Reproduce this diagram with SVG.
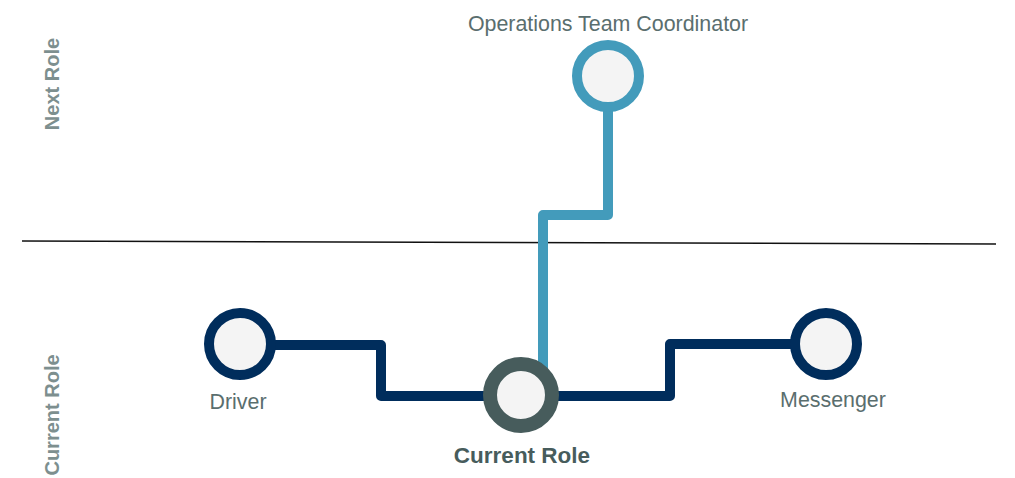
<svg xmlns="http://www.w3.org/2000/svg" width="1015" height="478" viewBox="0 0 1015 478">
<style>
.lbl{font-family:"Liberation Sans",Arial,sans-serif;font-size:21.4px;fill:#5a6e6e}
.side{font-family:"Liberation Sans",Arial,sans-serif;font-size:20px;font-weight:bold;fill:#7d8f8f}
.navy{fill:none;stroke:#002d5c;stroke-width:10;stroke-linejoin:round}
.blue{fill:none;stroke:#439bbb;stroke-width:10;stroke-linejoin:round}
</style>
<rect width="1015" height="478" fill="#ffffff"/>
<line x1="22" y1="241" x2="996" y2="244" stroke="#111" stroke-width="1.5"/>
<text class="side" transform="translate(59,84) rotate(-90)" text-anchor="middle">Next Role</text>
<text class="side" transform="translate(59,415) rotate(-90)" text-anchor="middle">Current Role</text>
<g id="connectors">
<path class="navy" d="M270 345 H381 V396 H490"/>
<path class="navy" d="M552 396 H670 V344 H795"/>
<path class="blue" d="M608 105 V215 H543 V372"/>
</g>
<g id="ops">
<circle cx="608" cy="76" r="31" fill="#f4f4f4" stroke="#439bbb" stroke-width="10"/>
<text class="lbl" x="608" y="31" text-anchor="middle">Operations Team Coordinator</text>
</g>
<g id="driver">
<circle cx="240" cy="344" r="31" fill="#f4f4f4" stroke="#002d5c" stroke-width="10"/>
<text class="lbl" x="238" y="409" text-anchor="middle">Driver</text>
</g>
<g id="messenger">
<circle cx="826" cy="344" r="31" fill="#f4f4f4" stroke="#002d5c" stroke-width="10"/>
<text class="lbl" x="833" y="407" text-anchor="middle">Messenger</text>
</g>
<g id="current">
<circle cx="521" cy="395" r="31" fill="#f4f4f4" stroke="#475c5c" stroke-width="14"/>
<text x="522" y="463" text-anchor="middle" font-family="'Liberation Sans',Arial,sans-serif" font-size="22.5" font-weight="bold" fill="#475c5c">Current Role</text>
</g>
</svg>
